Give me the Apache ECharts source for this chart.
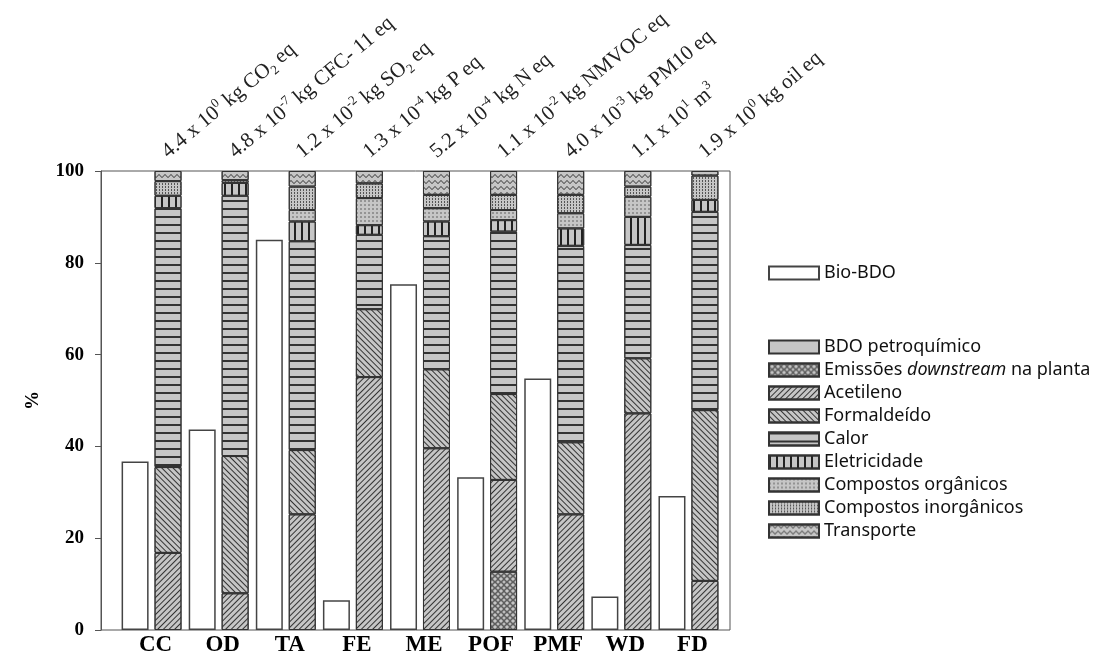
<!DOCTYPE html>
<html>
<head>
<meta charset="utf-8">
<script src="https://cdn.jsdelivr.net/npm/echarts@6/dist/echarts.min.js"></script>
<style>
html,body{margin:0;padding:0;background:#fff;}
#chart{width:1107px;height:660px;}
</style>
</head>
<body>
<div id="chart"></div>
<script>
// ---- data ----
const categories = ['CC','OD','TA','FE','ME','POF','PMF','WD','FD'];
const unitLabels = [
  '4.4 x 10{sup|0} kg CO{sub|2} eq',
  '4.8 x 10{sup|-7} kg CFC- 11 eq',
  '1.2 x 10{sup|-2} kg SO{sub|2} eq',
  '1.3 x 10{sup|-4} kg P eq',
  '5.2 x 10{sup|-4} kg N eq',
  '1.1 x 10{sup|-2} kg NMVOC eq',
  '4.0 x 10{sup|-3} kg PM10 eq',
  '1.1 x 10{sup|1} m{sup|3}',
  '1.9 x 10{sup|0} kg oil eq'
];
const yTicks = [0, 20, 40, 60, 80, 100];
const bioBDO       = [36.7, 43.7, 85.0, 6.5, 75.3, 33.3, 54.8, 7.3, 29.2];
const bdoPetro     = [0, 0, 0, 0, 0, 0, 0, 0, 0];
const emissoes     = [0, 0, 0, 0, 0, 12.7, 0, 0, 0];
const acetileno    = [16.8, 8.0, 25.2, 55.1, 39.6, 20.0, 25.2, 47.2, 10.7];
const formaldeido  = [18.7, 29.9, 14.0, 14.8, 17.2, 18.7, 15.7, 12.0, 37.2];
const calor        = [56.4, 56.7, 45.5, 16.2, 29.0, 35.4, 42.8, 24.7, 43.2];
const eletricidade = [2.7, 2.8, 4.3, 2.1, 3.2, 2.5, 3.8, 6.1, 2.6];
const compOrg      = [0, 0, 2.5, 5.9, 2.9, 2.2, 3.3, 4.4, 0];
const compInorg    = [3.2, 0.6, 5.1, 3.2, 2.9, 3.3, 4.0, 2.2, 5.3];
const transporte   = [2.2, 2.0, 3.4, 2.7, 5.2, 5.2, 5.2, 3.4, 1.0];

// ---- styles ----
const GRAY = '#c6c6c6';
const LINE = '#333';
const serif = 'Liberation Serif';
const sans = 'Noto Sans';
const nz = arr => arr.map(v => (v === 0 ? '-' : v));

const decals = {
  emissoes: {symbol: 'path://M5,0 A5,5 0 1,1 5,10 A5,5 0 1,1 5,0 Z M5,2 A3,3 0 1,0 5,8 A3,3 0 1,0 5,2 Z',
             symbolSize: 1, color: '#555', dashArrayX: [6, 0], dashArrayY: [6, 0], rotation: 0},
  acetileno: {symbol: 'rect', symbolSize: 1, color: '#333', dashArrayX: [1, 0], dashArrayY: [1, 3], rotation: -Math.PI / 4},
  formaldeido: {symbol: 'rect', symbolSize: 1, color: '#333', dashArrayX: [1, 0], dashArrayY: [1, 3], rotation: Math.PI / 4},
  calor: {symbol: 'rect', symbolSize: 1, color: '#333', dashArrayX: [1, 0], dashArrayY: [1.2, 5.3], rotation: 0},
  eletricidade: {symbol: 'rect', symbolSize: 1, color: '#222', dashArrayX: [1.5, 5], dashArrayY: [1, 0], rotation: 0},
  compOrg: {symbol: 'circle', symbolSize: 0.8, color: '#555', dashArrayX: [1.5, 2], dashArrayY: [1.5, 2], rotation: 0},
  compInorg: {symbol: 'rect', symbolSize: 1, color: '#555', dashArrayX: [1, 1.5], dashArrayY: [2, 1], rotation: 0},
  transporte: {symbol: 'path://M0,4 L5,0 L10,4 L10,5.5 L5,1.5 L0,5.5 Z', symbolSize: 1, symbolKeepAspect: false,
               color: '#333', dashArrayX: [6, 0], dashArrayY: [3.5, 1.5], rotation: 0}
};

function stackSeries(name, data, decal, extra) {
  const itemStyle = {color: GRAY, borderColor: LINE, borderWidth: 1};
  if (decal) itemStyle.decal = decal;
  const s = {
    name: name, type: 'bar', stack: 'petro', xAxisIndex: 1, yAxisIndex: 1,
    barWidth: 27, barGap: '22%',
    data: nz(data),
    itemStyle: itemStyle,
    emphasis: {disabled: true}
  };
  return Object.assign(s, extra || {});
}

const legendNames2 = ['BDO petroquímico', 'Emissões downstream na planta', 'Acetileno', 'Formaldeído',
  'Calor', 'Eletricidade', 'Compostos orgânicos', 'Compostos inorgânicos', 'Transporte'];

const option = {
  animation: false,
  backgroundColor: '#fff',
  grid: [
    {left: 101, right: 377, top: 171, bottom: 30, show: true, borderColor: '#555', borderWidth: 1, backgroundColor: 'transparent'},
    {left: 118, right: 385, top: 171, bottom: 30}
  ],
  xAxis: [
    {type: 'category', gridIndex: 0, data: categories, show: false},
    {type: 'category', gridIndex: 1, data: categories,
     axisLine: {show: false}, axisTick: {show: false},
     axisLabel: {interval: 0, hideOverlap: false, fontFamily: serif, fontWeight: 'bold', fontSize: 23, color: '#000',
                 margin: 4, padding: [0, 0, 0, 8]}}
  ],
  yAxis: [
    {type: 'value', gridIndex: 0, min: 0, max: 100, interval: 20,
     name: '%', nameLocation: 'middle', nameGap: 58, nameRotate: 90,
     nameTextStyle: {fontFamily: serif, fontWeight: 'bold', fontSize: 19, color: '#000'},
     axisLine: {show: true, lineStyle: {color: '#555', width: 1}},
     axisTick: {show: true, inside: false, length: 6, lineStyle: {color: '#555'}},
     splitLine: {show: false},
     axisLabel: {fontFamily: serif, fontWeight: 'bold', fontSize: 19, color: '#000', margin: 17,
                 formatter: v => (yTicks.indexOf(v) >= 0 ? String(v) : '')}},
    {type: 'value', gridIndex: 1, min: 0, max: 100, show: false, splitLine: {show: false}}
  ],
  legend: [
    {data: ['Bio-BDO'], orient: 'vertical', left: 763, top: 259, itemWidth: 50, itemHeight: 13, icon: 'rect',
     textStyle: {fontFamily: sans, fontSize: 18, color: '#111', lineHeight: 16}, selectedMode: false},
    {data: legendNames2, orient: 'vertical', left: 763, top: 333, itemWidth: 50, itemHeight: 13, itemGap: 5,
     icon: 'rect', selectedMode: false,
     formatter: n => (n === 'Emissões downstream na planta' ? '{a|Emissões }{i|downstream}{a| na planta}' : n),
     textStyle: {fontFamily: sans, fontSize: 18, color: '#111', lineHeight: 16,
       rich: {a: {fontFamily: sans, fontSize: 18, color: '#111', lineHeight: 16},
              i: {fontFamily: sans, fontSize: 18, color: '#111', fontStyle: 'italic', lineHeight: 16}}}}
  ],
  series: [
    {name: 'Bio-BDO', type: 'bar', xAxisIndex: 1, yAxisIndex: 1, barWidth: 27, barGap: '22%',
     data: bioBDO, itemStyle: {color: '#fff', borderColor: '#444', borderWidth: 1.5}, emphasis: {disabled: true}},
    stackSeries('BDO petroquímico', bdoPetro, null),
    stackSeries('Emissões downstream na planta', emissoes, decals.emissoes),
    stackSeries('Acetileno', acetileno, decals.acetileno),
    stackSeries('Formaldeído', formaldeido, decals.formaldeido),
    stackSeries('Calor', calor, decals.calor),
    stackSeries('Eletricidade', eletricidade, decals.eletricidade),
    stackSeries('Compostos orgânicos', compOrg, decals.compOrg),
    stackSeries('Compostos inorgânicos', compInorg, decals.compInorg),
    stackSeries('Transporte', transporte, decals.transporte, {
      label: {
        show: true, position: 'top', distance: 0, rotate: 40, align: 'left', verticalAlign: 'middle',
        offset: [8.2, -14.8],
        fontFamily: serif, fontSize: 21, color: '#222', lineHeight: 26,
        formatter: p => unitLabels[p.dataIndex],
        rich: {
          sup: {fontFamily: serif, fontSize: 13, color: '#222', lineHeight: 13, verticalAlign: 'top'},
          sub: {fontFamily: serif, fontSize: 13, color: '#222', lineHeight: 13, verticalAlign: 'bottom'}
        }
      }
    })
  ]
};

const chart = echarts.init(document.getElementById('chart'), null, {renderer: 'canvas'});
chart.setOption(option);
</script>
</body>
</html>
